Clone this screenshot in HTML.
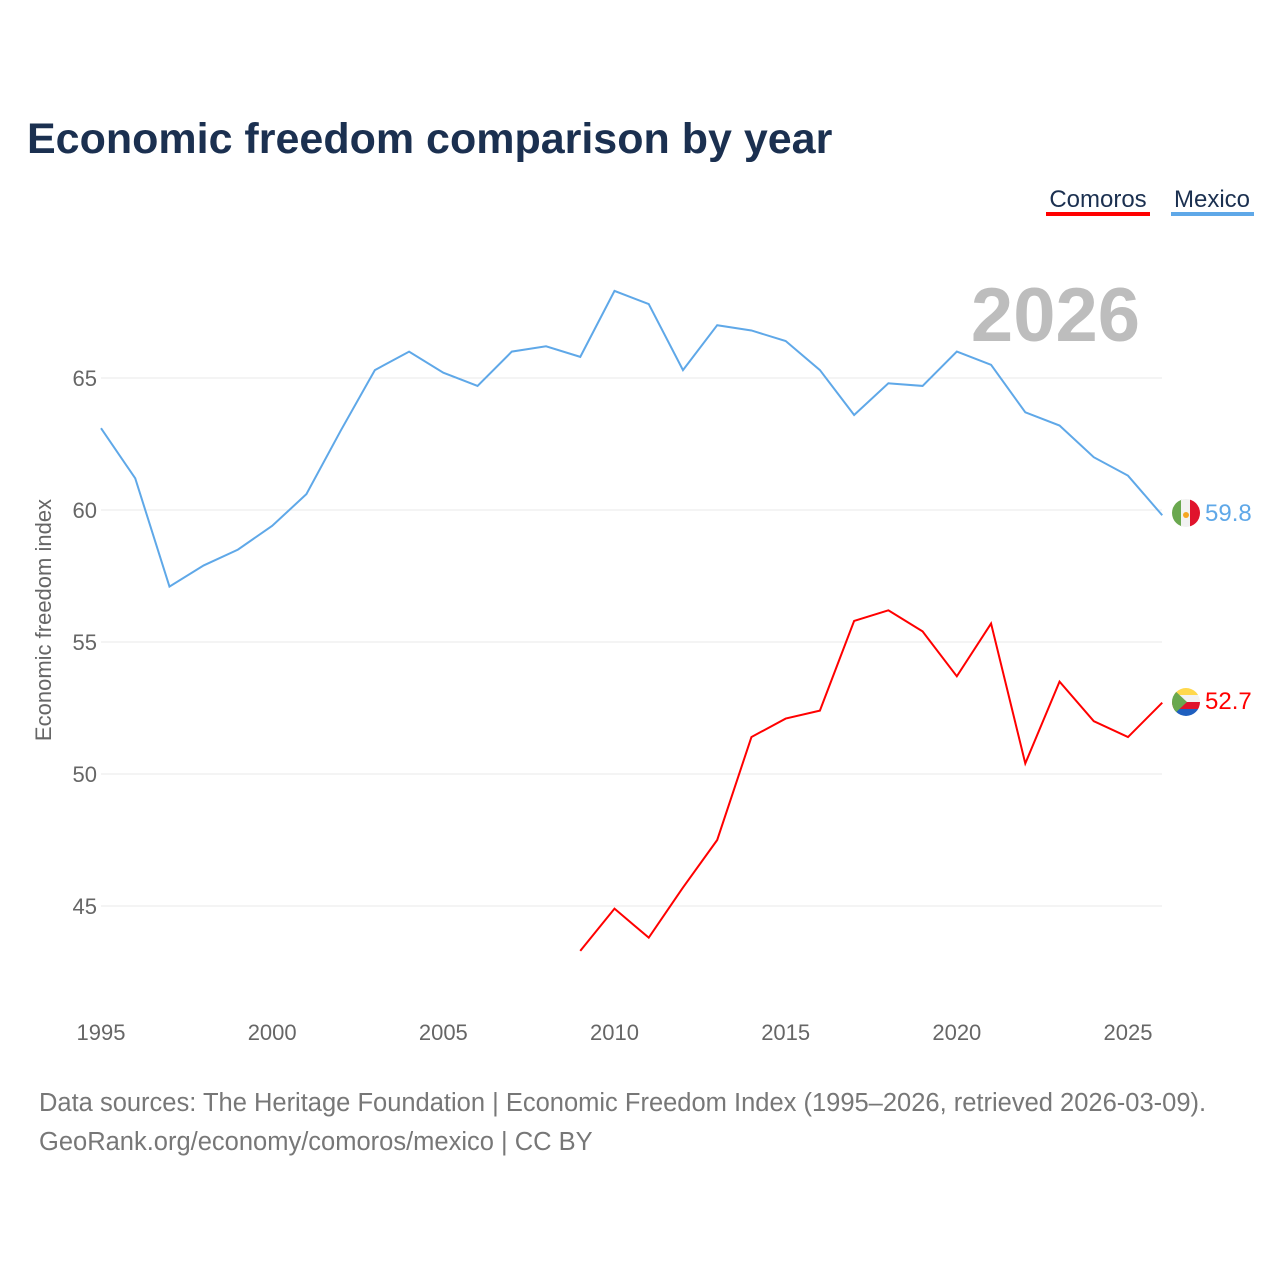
<!DOCTYPE html>
<html><head><meta charset="utf-8"><style>
body{margin:0;background:#fff;width:1280px;height:1280px;overflow:hidden;font-family:"Liberation Sans",sans-serif}
</style></head><body>
<svg id="c" width="1280" height="1280" xmlns="http://www.w3.org/2000/svg">
<defs>
<clipPath id="cm"><circle cx="1186" cy="513" r="14"/></clipPath>
<clipPath id="cc"><circle cx="1186" cy="702" r="14"/></clipPath>
</defs>
<text x="27" y="153" font-size="43" font-weight="bold" fill="#1b3050">Economic freedom comparison by year</text>
<g>
<text x="1098" y="207" font-size="24" fill="#1b3050" text-anchor="middle">Comoros</text>
<rect x="1046" y="212" width="104" height="4" fill="#ff0000"/>
<text x="1212" y="207" font-size="24" fill="#1b3050" text-anchor="middle">Mexico</text>
<rect x="1171" y="212" width="83" height="4" fill="#5fa8e8"/>
</g>
<text x="1140" y="341" font-size="76" font-weight="bold" fill="#bdbdbd" text-anchor="end">2026</text>
<text transform="translate(51,620) rotate(-90)" font-size="22" fill="#666" text-anchor="middle">Economic freedom index</text>
<g id="grid"></g><g id="xt"></g><g id="lines"></g>
<g clip-path="url(#cm)">
<rect x="1172" y="499" width="10" height="28" fill="#6aa84f"/><rect x="1181" y="499" width="10" height="28" fill="#f2f2f2"/><rect x="1190" y="499" width="10" height="28" fill="#e0142c"/><circle cx="1186" cy="515" r="3" fill="#f5a623"/></g>
<g clip-path="url(#cc)">
<rect x="1172" y="688" width="28" height="7" fill="#ffd84d"/><rect x="1172" y="695" width="28" height="7" fill="#f2f2f2"/><rect x="1172" y="702" width="28" height="7" fill="#e0142c"/><rect x="1172" y="709" width="28" height="7" fill="#1f5fbf"/><polygon points="1172,688 1187,702 1172,716" fill="#6aa84f"/></g>
<text x="1205" y="521" font-size="24" fill="#5fa8e8">59.8</text>
<text x="1205" y="709" font-size="24" fill="#ff0000">52.7</text>
<text x="39" y="1111" font-size="25.5" fill="#777">Data sources: The Heritage Foundation | Economic Freedom Index (1995–2026, retrieved 2026-03-09).</text>
<text x="39" y="1150" font-size="25.5" fill="#777">GeoRank.org/economy/comoros/mexico | CC BY</text>
</svg>
<script>
const years=[1995,1996,1997,1998,1999,2000,2001,2002,2003,2004,2005,2006,2007,2008,2009,2010,2011,2012,2013,2014,2015,2016,2017,2018,2019,2020,2021,2022,2023,2024,2025,2026];
const mexico=[63.1,61.2,57.1,57.9,58.5,59.4,60.6,63.0,65.3,66.0,65.2,64.7,66.0,66.2,65.8,68.3,67.8,65.3,67.0,66.8,66.4,65.3,63.6,64.8,64.7,66.0,65.5,63.7,63.2,62.0,61.3,59.8];
const comorosYears=[2009,2010,2011,2012,2013,2014,2015,2016,2017,2018,2019,2020,2021,2022,2023,2024,2025,2026];
const comoros=[43.3,44.9,43.8,45.7,47.5,51.4,52.1,52.4,55.8,56.2,55.4,53.7,55.7,50.4,53.5,52.0,51.4,52.7];
const yTicks=[45,50,55,60,65];
const xTicks=[1995,2000,2005,2010,2015,2020,2025];
const NS="http://www.w3.org/2000/svg";
const xs=y=>101+(y-1995)*(1128-101)/30;
const ys=v=>378+(65-v)*26.4;
function mk(t,a,p){const e=document.createElementNS(NS,t);for(const k in a)e.setAttribute(k,a[k]);p.appendChild(e);return e;}
const grid=document.getElementById('grid');
yTicks.forEach(v=>{
 const l=mk('line',{x1:101,x2:1162,y1:ys(v),y2:ys(v),stroke:'#e8e8e8','stroke-width':1},grid);
 
 
 const t=mk('text',{x:97,y:ys(v)+8,'font-size':22,fill:'#666','text-anchor':'end'},grid);
 t.textContent=v;
 
 
});
const xt=document.getElementById('xt');
xTicks.forEach(y=>{
 const t=mk('text',{x:xs(y),y:1040,'font-size':22,fill:'#666','text-anchor':'middle'},xt);
 t.textContent=y;
 
 
});
const lines=document.getElementById('lines');
const pm=mk('polyline',{points:years.map((y,i)=>xs(y)+','+ys(mexico[i])).join(' '),fill:'none',stroke:'#5fa8e8','stroke-width':2},lines);


const pc=mk('polyline',{points:comorosYears.map((y,i)=>xs(y)+','+ys(comoros[i])).join(' '),fill:'none',stroke:'#ff0000','stroke-width':2},lines);


</script>
</body></html>
